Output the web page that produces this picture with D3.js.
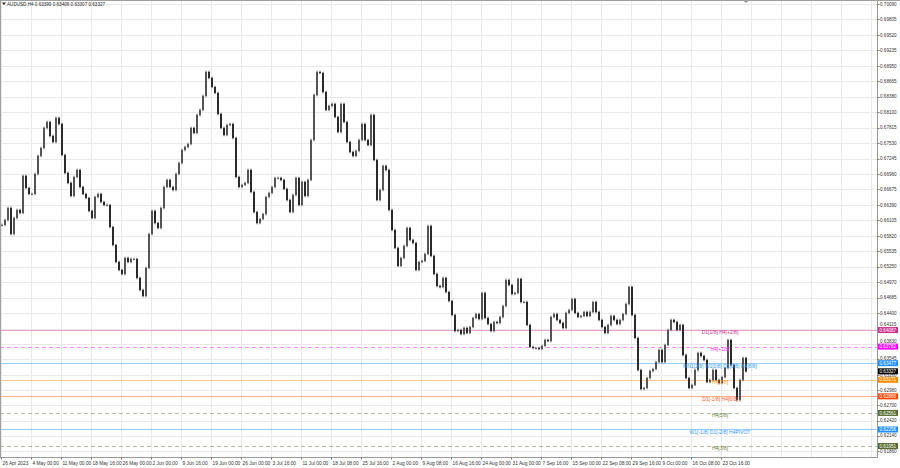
<!DOCTYPE html>
<html><head><meta charset="utf-8">
<script src="https://cdn.jsdelivr.net/npm/d3@7"></script>
<style>body{margin:0;background:#fff}svg{display:block}text{font-family:"Liberation Sans",Arial,sans-serif}</style>
</head><body><svg id="c" width="900" height="468"></svg>
<script>
const symbolInfo = "AUDUSD,H4  0.63399 0.63406 0.63307 0.63327";
const closes = [
0.66021,0.66113,0.66334,0.65855,0.66150,0.66297,0.66242,0.66924,0.66703,0.66592,
0.66592,0.66960,0.67292,0.67439,0.67807,0.67917,0.67660,0.67549,0.67992,0.67880,
0.67310,0.66979,0.66795,0.66556,0.66905,0.67034,0.66721,0.66592,0.66519,0.66279,
0.66150,0.66537,0.66592,0.66444,0.66389,0.66389,0.65984,0.65653,0.65340,0.65193,
0.65119,0.65414,0.65340,0.65395,0.65395,0.65046,0.64824,0.64714,0.65230,0.65855,
0.66279,0.66058,0.65966,0.66334,0.66721,0.66850,0.66721,0.66666,0.66960,0.67163,
0.67402,0.67457,0.67512,0.67807,0.67715,0.68047,0.68139,0.68397,0.68838,0.68728,
0.68562,0.68452,0.68065,0.67807,0.67678,0.67862,0.67880,0.67623,0.66905,0.66721,
0.66758,0.66795,0.67034,0.66629,0.66260,0.66058,0.66131,0.66223,0.66537,0.66611,
0.66721,0.66887,0.66887,0.66850,0.66684,0.66481,0.66260,0.66574,0.66887,0.66389,
0.66813,0.66556,0.66850,0.67586,0.68415,0.68838,0.68820,0.68470,0.68139,0.68213,
0.68249,0.68010,0.67733,0.68249,0.67917,0.67549,0.67365,0.67292,0.67384,0.67586,
0.67880,0.67586,0.67494,0.68047,0.67218,0.66481,0.66666,0.67108,0.67034,0.66297,
0.65929,0.65598,0.65267,0.65414,0.65635,0.65966,0.65745,0.65690,0.65193,0.65340,
0.65359,0.65487,0.66003,0.65451,0.65119,0.64898,0.64879,0.65046,0.64787,0.64622,
0.64364,0.64070,0.64088,0.64014,0.64125,0.64033,0.64143,0.64309,0.64382,0.64290,
0.64769,0.64309,0.64198,0.64070,0.64235,0.64217,0.64327,0.64530,0.65008,0.64916,
0.64750,0.64769,0.65027,0.64603,0.64603,0.64180,0.63775,0.63757,0.63757,0.63738,
0.63794,0.63904,0.63885,0.64327,0.64382,0.64272,0.64217,0.64125,0.64401,0.64456,
0.64658,0.64401,0.64327,0.64346,0.64419,0.64346,0.64419,0.64603,0.64419,0.64272,
0.64143,0.64033,0.64180,0.64346,0.64272,0.64198,0.64272,0.64382,0.64566,0.64879,
0.64364,0.63941,0.63351,0.63001,0.63020,0.63204,0.63333,0.63369,0.63498,0.63720,
0.63498,0.63812,0.64088,0.64272,0.64235,0.64088,0.64180,0.63628,0.63204,0.63020,
0.63075,0.63351,0.63665,0.63610,0.63535,0.63130,0.63167,0.63351,0.63167,0.63112,
0.63222,0.63388,0.63904,0.63443,0.63020,0.62799,0.63167,0.63573,0.63327];
const dateLabels = ["26 Apr 2023","4 May 00:00","11 May 00:00","18 May 16:00","26 May 00:00","2 Jun 00:00","9 Jun 16:00","19 Jun 00:00","26 Jun 00:00","3 Jul 16:00","11 Jul 00:00","18 Jul 08:00","25 Jul 16:00","2 Aug 00:00","9 Aug 08:00","16 Aug 16:00","24 Aug 00:00","31 Aug 00:00","7 Sep 16:00","15 Sep 00:00","22 Sep 08:00","29 Sep 16:00","9 Oct 00:00","16 Oct 08:00","23 Oct 16:00"];
const priceTicks = [0.70090,0.69805,0.69520,0.69235,0.68950,0.68665,0.68380,0.68100,0.67815,0.67530,0.67245,0.66960,0.66675,0.66390,0.66105,0.65820,0.65535,0.65250,0.64970,0.64685,0.64400,0.64115,0.63830,0.63545,0.63260,0.62980,0.62700,0.62420,0.62140,0.61860];
const levelValues = [0.64087,0.63782,0.63477,0.63171,0.62866,0.62561,0.62256,0.61951];
const levelNames = ["D1[1/8] H4[+2/8]","H4[+1/8]","MN1[2/8] W1[0/8] D1[0/8] H4[8/8]","H4[7/8]","D1[-1/8] H4[6/8]","H4[5/8]","W1[-1/8] D1[-2/8] H4PIVOT","H4[3/8]"];
const currentPrice = 0.63327;

// styles (kept separate from data)
const levelColors = ["#d0308f","#ff00ff","#1e90ff","#ff8c00","#ff4500","#556b2f","#1e90ff","#556b2f"];
const levelTextColors = ["#d0308f","#ff33ff","#3399ff","#ff9a1a","#ff5a1a","#6b7f3a","#3399ff","#6b7f3a"];
const levelDashed = [false,true,false,false,false,true,false,true];

const W = 900, H = 468, plotR = 877.5, plotB = 457.5;
const svg = d3.select("#c");
const y = d3.scaleLinear().domain([priceTicks[0], priceTicks[priceTicks.length-1]]).range([4, 451]);
const x = d3.scaleLinear().domain([0, closes.length-1]).range([2, 2 + 3*(closes.length-1)]);

svg.append("rect").attr("width",W).attr("height",H).attr("fill","#fff");

// grid
const g = svg.append("g");
g.selectAll("line.h").data(priceTicks).join("line")
  .attr("x1",0).attr("x2",plotR).attr("y1",d=>Math.round(y(d))+0.5).attr("y2",d=>Math.round(y(d))+0.5)
  .attr("stroke","#e9e9e9").attr("stroke-width",1);
const vgrid = d3.range(0,30);
g.selectAll("line.v").data(vgrid).join("line")
  .attr("x1",k=>Math.round(x(10*k))-0.5).attr("x2",k=>Math.round(x(10*k))-0.5)
  .attr("y1",0).attr("y2",plotB)
  .attr("stroke","#e9e9e9").attr("stroke-width",1);

// level lines
const lv = svg.append("g");
levelValues.forEach((v,i)=>{
  const yy = Math.round(y(v))+0.5;
  lv.append("line").attr("x1",0).attr("x2",plotR).attr("y1",yy).attr("y2",yy)
    .attr("stroke",levelColors[i]).attr("stroke-opacity",0.45).attr("stroke-width",1)
    .attr("stroke-dasharray",levelDashed[i]?"4,3":null);
});

// candles: body from previous close to close
const cg = svg.append("g");
closes.forEach((c,i)=>{
  const o = i>0 ? closes[i-1] : c;
  const y1 = y(Math.max(o,c)), y2 = y(Math.min(o,c));
  cg.append("line").attr("x1",x(i)).attr("x2",x(i))
    .attr("y1",y1-1.5).attr("y2",y2+1.5).attr("stroke","#a0a0a0").attr("stroke-width",1);
  cg.append("rect").attr("x",x(i)-1).attr("width",2)
    .attr("y",y1-0.3).attr("height",Math.max(1.2,y2-y1+0.6))
    .attr("fill", c>=o ? "#555" : "#2a2a2a");
});

// level labels in chart
levelValues.forEach((v,i)=>{
  svg.append("text").attr("x",720).attr("y",y(v)+2.6).attr("dy","0.35em")
    .attr("text-anchor","middle").attr("font-size",5).attr("fill",levelTextColors[i])
    .text(levelNames[i]);
});

// borders
svg.append("line").attr("x1",plotR).attr("x2",plotR).attr("y1",0).attr("y2",plotB).attr("stroke","#9a9a9a");
svg.append("line").attr("x1",0).attr("x2",plotR).attr("y1",plotB).attr("y2",plotB).attr("stroke","#9a9a9a");
svg.append("line").attr("x1",0).attr("x2",W).attr("y1",0.5).attr("y2",0.5).attr("stroke","#a0a0a0");
svg.append("line").attr("x1",0.5).attr("x2",0.5).attr("y1",0).attr("y2",plotB).attr("stroke","#a0a0a0");

// price axis
const pa = svg.append("g");
const boxVals = levelValues.map((v,i)=>({v, col: levelColors[i]}));
boxVals.push({v: currentPrice, col: "#000"});
const boxHalf = 3, txtHalf = 1.9, clear = boxHalf + txtHalf + 0.2;
function fits(ty){ return boxVals.every(b => Math.abs(ty - y(b.v)) >= clear); }
priceTicks.forEach(p=>{
  const yy = Math.round(y(p))+0.5;
  pa.append("line").attr("x1",plotR).attr("x2",plotR+2).attr("y1",yy).attr("y2",yy).attr("stroke","#777");
  let ty = y(p);
  if (!fits(ty)) {
    let best = null;
    for (let d=0.25; d<=4; d+=0.25) {
      if (fits(ty-d)) { best = ty-d; break; }
      if (fits(ty+d)) { best = ty+d; break; }
    }
    if (best !== null) ty = best;
  }
  pa.append("text").attr("x",880).attr("y",ty).attr("dy","0.35em").attr("font-size",4.6).attr("fill","#333").text(p.toFixed(5));
});
boxVals.forEach(b=>{
  const yy = y(b.v);
  pa.append("rect").attr("x",878).attr("y",yy-boxHalf).attr("width",20).attr("height",2*boxHalf).attr("fill",b.col);
  pa.append("text").attr("x",879.5).attr("y",yy).attr("dy","0.35em").attr("font-size",4.6).attr("fill","#fff").text(b.v.toFixed(5));
});

// time axis
const ta = svg.append("g");
dateLabels.forEach((d,k)=>{
  const xx = Math.round(x(10*k))-0.5;
  ta.append("line").attr("x1",xx).attr("x2",xx).attr("y1",plotB).attr("y2",plotB+2).attr("stroke","#777");
  ta.append("text").attr("x",xx+1).attr("y",463).attr("dy","0.35em").attr("font-size",4.8).attr("fill","#333").text(d);
});

// header
svg.append("path").attr("d","M2,2.5 L6,2.5 L4,5 Z").attr("fill","#222");
svg.append("text").attr("x",7).attr("y",4).attr("dy","0.35em").attr("font-size",4.6).attr("fill","#222").text(symbolInfo);
// chart shift marker
svg.append("path").attr("d","M743,0.5 L749,0.5 L746,3 Z").attr("fill","#999");
</script></body></html>
